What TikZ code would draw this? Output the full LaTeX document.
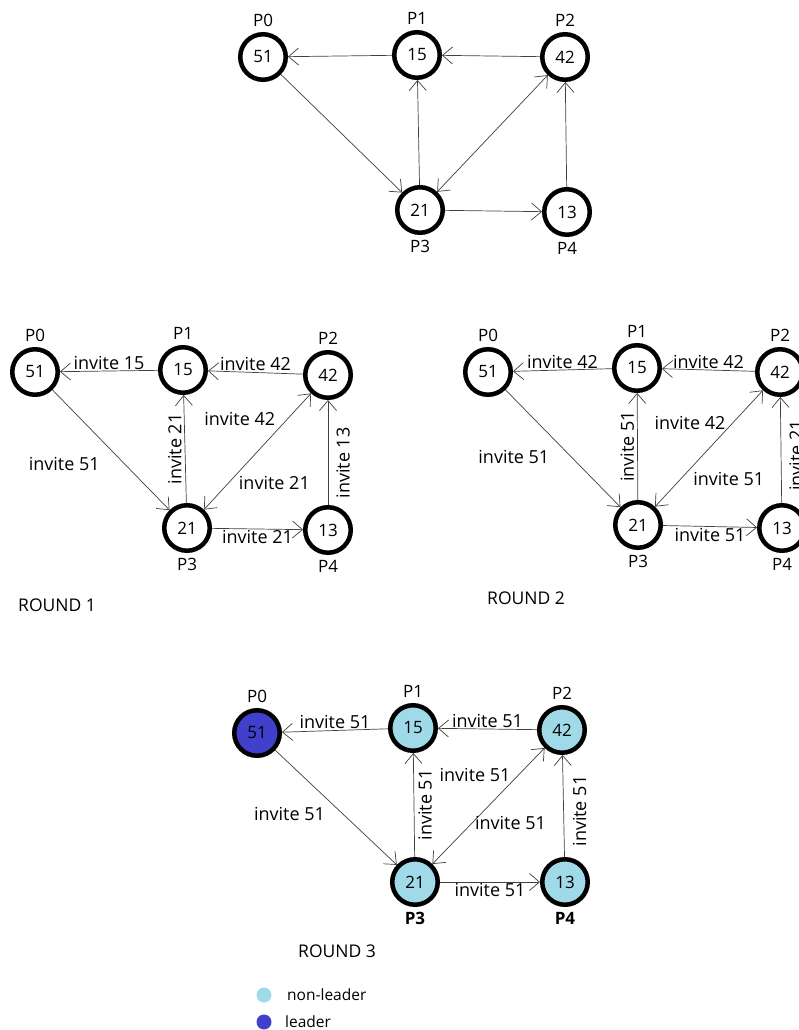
\documentclass[tikz,border=0pt]{standalone}
\usepackage{fontspec}
\setmainfont{Open Sans}
\usetikzlibrary{arrows.meta,positioning}
\definecolor{nonleader}{RGB}{160,218,232}
\definecolor{leader}{RGB}{64,64,204}
\tikzset{
  proc/.style={circle, draw, line width=4.5pt, minimum size=45.5pt, inner sep=0pt, font=\fontsize{17}{19}\selectfont},
  msg/.style={draw=black!75, line width=0.7pt, -{Straight Barb[length=10pt,width=17pt]}},
  msgboth/.style={msg, {Straight Barb[length=10pt,width=17pt]}-{Straight Barb[length=10pt,width=17pt]}},
  lbl/.style={inner sep=1pt, font=\fontsize{18}{20}\selectfont},
  every label/.style={font=\fontsize{17}{19}\selectfont, inner sep=1pt},
  roundlbl/.style={anchor=west, inner sep=0pt, font=\fontsize{17.5}{19}\selectfont},
  legend/.style={inner sep=0pt, font=\fontsize{15.5}{17}\selectfont},
}
\begin{document}
\begin{tikzpicture}[x=1pt, y=-1pt, label distance=4pt]
\useasboundingbox (0,0) rectangle (798,1030);
\fill[white] (0,0) rectangle (798,1030);

% initial graph
\node[proc, label=above:P0] (A0) at (263,57) {51};
\node[proc, label=above:P1] (A1) at (417,55) {15};
\node[proc, label=above:P2] (A2) at (565,57) {42};
\node[proc, label=below:P3] (A3) at (420,210) {21};
\node[proc, label=below:P4] (A4) at (567,212) {13};

\draw[msg] (A1) -- (A0);
\draw[msg] (A2) -- (A1);
\draw[msg] (A0) -- (A3);
\draw[msg] (A3) -- (A1);
\draw[msgboth] (A3) -- (A2);
\draw[msg] (A3) -- (A4);
\draw[msg] (A4) -- (A2);

% round 1
\node[proc, label=above:P0] (B0) at (35,372) {51};
\node[proc, label=above:P1] (B1) at (183,370) {15};
\node[proc, label=above:P2] (B2) at (328,375) {42};
\node[proc, label=below:P3] (B3) at (187,528) {21};
\node[proc, label=below:P4] (B4) at (328,530) {13};

\draw[msg] (B1) -- (B0) node[midway, above, lbl] {invite 15};
\draw[msg] (B2) -- (B1) node[midway, above, lbl] {invite 42};
\draw[msg] (B0) -- (B3) node[pos=0.62, anchor=east, xshift=-24pt, lbl] {invite 51};
\draw[msg] (B3) -- (B1) node[midway, rotate=90, above, lbl, inner sep=3pt] {invite 21};
\draw[msgboth] (B3) -- (B2) node[pos=0.78, anchor=east, xshift=-11pt, lbl] {invite 42}
  node[pos=0.23, anchor=west, xshift=9pt, lbl] {invite 21};
\draw[msg] (B3) -- (B4) node[midway, below, lbl] {invite 21};
\draw[msg] (B4) -- (B2) node[pos=0.4, rotate=90, below, lbl, inner sep=8pt] {invite 13};
\node[roundlbl] (R1) at (18,605) {ROUND 1};

% round 2
\node[proc, label=above:P0] (C0) at (488,372) {51};
\node[proc, label=above:P1] (C1) at (637,368) {15};
\node[proc, label=above:P2] (C2) at (780,372) {42};
\node[proc, label=below:P3] (C3) at (638,525) {21};
\node[proc, label=below:P4] (C4) at (782,528) {13};

\draw[msg] (C1) -- (C0) node[midway, above, lbl] {invite 42};
\draw[msg] (C2) -- (C1) node[midway, above, lbl] {invite 42};
\draw[msg] (C0) -- (C3) node[pos=0.575, anchor=east, xshift=-21pt, lbl] {invite 51};
\draw[msg] (C3) -- (C1) node[midway, rotate=90, above, lbl, inner sep=3pt] {invite 51};
\draw[msgboth] (C3) -- (C2) node[pos=0.72, anchor=east, xshift=-6pt, lbl] {invite 42}
  node[pos=0.24, anchor=west, xshift=11pt, lbl] {invite 51};
\draw[msg] (C3) -- (C4) node[midway, below, lbl] {invite 51};
\draw[msg] (C4) -- (C2) node[pos=0.45, rotate=90, below, lbl, inner sep=8pt] {invite 21};
\node[roundlbl] (R2) at (487,598) {ROUND 2};

% round 3
\node[proc, fill=leader, label=above:P0] (D0) at (257,733) {51};
\node[proc, fill=nonleader, label=above:P1] (D1) at (413,728) {15};
\node[proc, fill=nonleader, label=above:P2] (D2) at (562,730) {42};
\node[proc, fill=nonleader, label=below:\textbf{P3}] (D3) at (415,882) {21};
\node[proc, fill=nonleader, label=below:\textbf{P4}] (D4) at (565,882) {13};

\draw[msg] (D1) -- (D0) node[midway, above, lbl] {invite 51};
\draw[msg] (D2) -- (D1) node[midway, above, lbl] {invite 51};
\draw[msg] (D0) -- (D3) node[pos=0.56, anchor=east, xshift=-17pt, lbl] {invite 51};
\draw[msg] (D3) -- (D1) node[midway, rotate=90, below, lbl, inner sep=4pt] {invite 51};
\draw[msgboth] (D3) -- (D2) node[pos=0.77, anchor=east, xshift=-7pt, lbl] {invite 51}
  node[pos=0.35, anchor=west, xshift=2pt, lbl] {invite 51};
\draw[msg] (D3) -- (D4) node[midway, below, lbl] {invite 51};
\draw[msg] (D4) -- (D2) node[pos=0.45, rotate=90, below, lbl, inner sep=9pt] {invite 51};
\node[roundlbl] (R3) at (298,951) {ROUND 3};

% legend
\node[circle, fill=nonleader, minimum size=15pt, inner sep=0pt] (L1) at (264,995) {};
\node[circle, fill=leader, minimum size=15pt, inner sep=0pt] (L2) at (264,1022) {};
\node[legend, right=23pt of L1.center, anchor=west] (T1) {non-leader};
\node[legend, right=21pt of L2.center, anchor=west] (T2) {leader};
\end{tikzpicture}
\end{document}
